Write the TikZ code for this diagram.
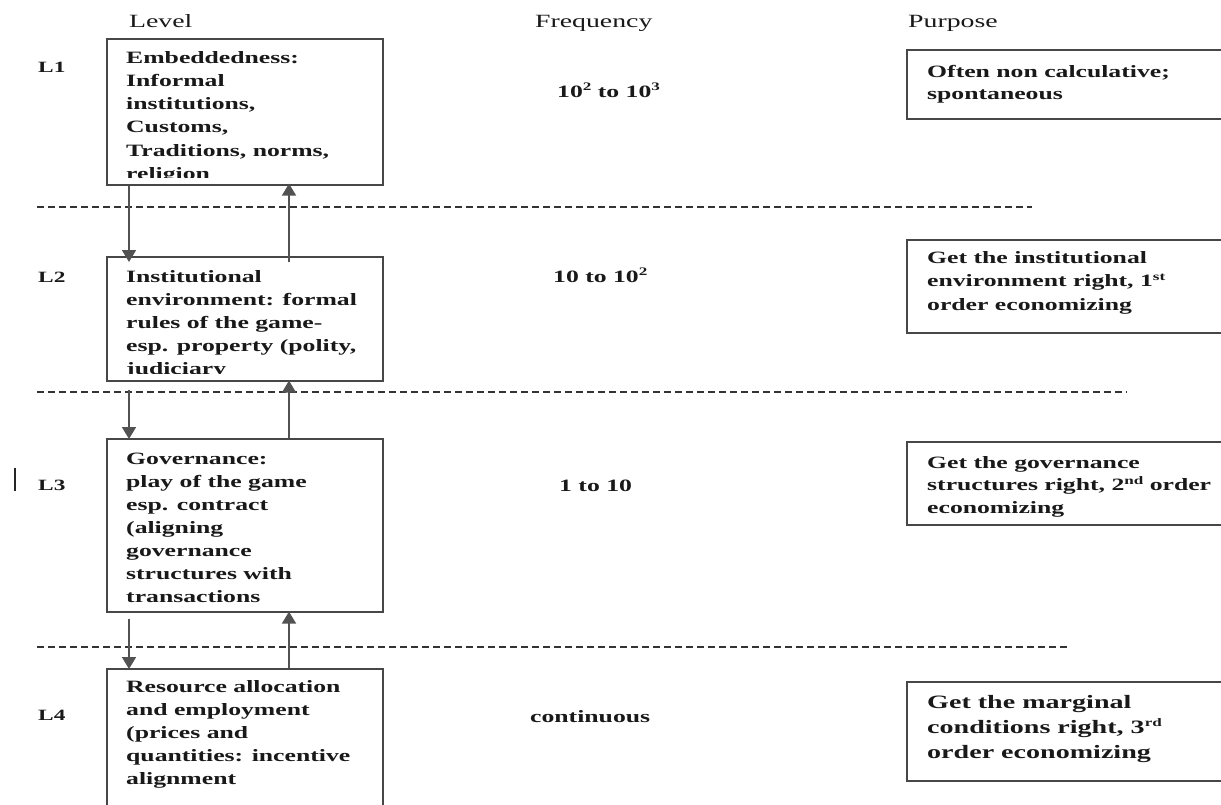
\documentclass[tikz,border=0pt]{standalone}
\usepackage{fontspec}
\setmainfont{Liberation Serif}[FakeStretch=1.485]
\usetikzlibrary{arrows.meta,calc}
\newcommand{\mylines}[3]{\parbox[t]{500pt}{\raggedright\fontsize{#1}{#2}\selectfont #3}}
\newcommand{\mysup}[1]{\raisebox{6.5pt}{\fontsize{11.5}{12}\selectfont #1}}
\tikzset{arrtip/.tip={Triangle[width=14pt,length=12pt]}}
\begin{document}
\begin{tikzpicture}[x=1pt,y=-1pt,
  box/.style={draw=black!72, line width=1.6pt, rectangle, inner sep=0pt, anchor=north west},
  txt/.style={anchor=base west, inner sep=0pt, text=black!90, font=\bfseries},
  head/.style={anchor=base west, inner sep=0pt, text=black!90, font=\fontsize{18.7}{22}\selectfont},
  lvl/.style={anchor=base west, inner sep=0pt, text=black!90, font=\bfseries\fontsize{15.7}{19}\selectfont},
  freq/.style={anchor=base west, inner sep=0pt, text=black!90, font=\bfseries\fontsize{17.3}{21}\selectfont},
  arr/.style={draw=black!68, fill=black!68, line width=1.7pt, -arrtip},
  sep/.style={draw=black!80, line width=1.3pt, dash pattern=on 7pt off 4pt}]
\useasboundingbox (0,0) rectangle (1221,804);
\clip (0,0) rectangle (1221,804);
\fill[white] (0,0) rectangle (1221,804);

% headers
\node[head] (hl) at (129,27) {Level};
\node[head] (hf) at (535,27) {Frequency};
\node[head] (hp) at (908,27) {Purpose};

% level labels
\node[lvl] (l1) at (38,72) {L1};
\node[lvl] (l2) at (38,282) {L2};
\node[lvl] (l3) at (38,490) {L3};
\node[lvl] (l4) at (38,720) {L4};
\coordinate (bartop) at (15,468);
\coordinate (barbot) at (15,491);
\draw[line width=1.5pt, black!85] (bartop) -- (barbot);

% separators
\coordinate (s1a) at (37,207); \coordinate (s1b) at (1032,207);
\coordinate (s2a) at (37,392); \coordinate (s2b) at (1127,392);
\coordinate (s3a) at (37,647); \coordinate (s3b) at (1068,647);
\draw[sep] (s1a) -- (s1b);
\draw[sep] (s2a) -- (s2b);
\draw[sep] (s3a) -- (s3b);

% level boxes
\node[box, minimum width=276pt, minimum height=146pt] (b1) at (106,38) {};
\node[box, minimum width=276pt, minimum height=124pt] (b2) at (106,256) {};
\node[box, minimum width=276pt, minimum height=173pt] (b3) at (106,438) {};
\node[box, minimum width=276pt, minimum height=170pt] (b4) at (106,668) {};

\begin{scope}
\clip (106,38) rectangle (382,177);
\node[txt] (t1) at (126,63) {\mylines{17.3}{23.3}{Embeddedness:\\Informal\\institutions,\\Customs,\\Traditions, norms,\\religion}};
\end{scope}
\begin{scope}
\clip (106,256) rectangle (382,373);
\node[txt] (t2) at (126,282) {\mylines{17.3}{23}{Institutional\\environment: formal\\rules of the game-\\esp. property (polity,\\judiciary}};
\end{scope}
\node[txt] (t3) at (126,464) {\mylines{17.3}{23}{Governance:\\play of the game\\esp. contract\\(aligning\\governance\\structures with\\transactions}};
\node[txt] (t4) at (126,692) {\mylines{17.3}{23.2}{Resource allocation\\and employment\\(prices and\\quantities: incentive\\alignment}};

% arrows between level boxes
\draw[arr] ($(b1.south west)+(23,0)$) -- ($(b2.north west)+(23,6)$);
\draw[arr] ($(b2.north west)+(183,6)$) -- ($(b1.south west)+(183,-2)$);
\draw[arr] ($(b2.south west)+(23,8)$) -- ($(b3.north west)+(23,1)$);
\draw[arr] ($(b3.north west)+(183,0)$) -- ($(b2.south west)+(183,-1)$);
\draw[arr] ($(b3.south west)+(23,6)$) -- ($(b4.north west)+(23,1)$);
\draw[arr] ($(b4.north west)+(183,0)$) -- ($(b3.south west)+(183,-1)$);

% frequencies
\node[freq] (f1) at (557,97) {10\mysup{2} to 10\mysup{3}};
\node[freq] (f2) at (553,282) {10 to 10\mysup{2}};
\node[freq] (f3) at (559,491) {1 to 10};
\node[freq] (f4) at (530,722) {continuous};

% purpose boxes
\node[box, minimum width=330pt, minimum height=69pt] (p1) at (906,49) {};
\node[box, minimum width=330pt, minimum height=93pt] (p2) at (906,239) {};
\node[box, minimum width=330pt, minimum height=83pt] (p3) at (906,441) {};
\node[box, minimum width=330pt, minimum height=99pt] (p4) at (906,681) {};
\node[txt] (q1) at (927,77) {\mylines{17.3}{22}{Often non calculative;\\spontaneous}};
\node[txt] (q2) at (927,263) {\mylines{17.3}{23.5}{Get the institutional\\environment right, 1\mysup{st}\\order economizing}};
\node[txt] (q3) at (927,468) {\mylines{17.3}{22.5}{Get the governance\\structures right, 2\mysup{nd} order\\economizing}};
\node[txt] (q4) at (927,708) {\mylines{18.9}{25}{Get the marginal\\conditions right, 3\mysup{rd}\\order economizing}};
\end{tikzpicture}
\end{document}
